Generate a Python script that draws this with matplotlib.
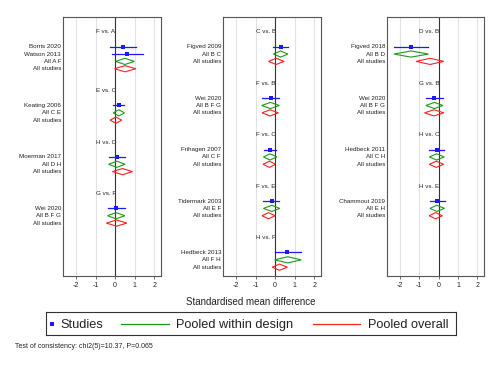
"""
Network meta-analysis side-splitting forest plot (test of consistency).
"""

import matplotlib
matplotlib.use("Agg")
import matplotlib.pyplot as plt
from matplotlib.lines import Line2D

plt.rcParams["font.family"] = ["Liberation Sans", "DejaVu Sans"]
plt.rcParams["axes.unicode_minus"] = False

# comparisons (one block each), and the panel each goes in
block_names = ["F vs. A", "E vs. C", "H vs. D", "G vs. F",
               "C vs. B", "F vs. B", "F vs. C", "F vs. E", "H vs. F",
               "D vs. B", "G vs. B", "H vs. C", "H vs. E"]
block_panel = [0, 0, 0, 0, 1, 1, 1, 1, 1, 2, 2, 2, 2]
design_labels = ["All A F", "All C E", "All D H", "All B F G",
                 "All B C", "All B F G", "All C F", "All E F", "All F H",
                 "All B D", "All B F G", "All C H", "All E H"]

# individual studies
study_names = ["Borris 2020", "Watson 2013", "Keating 2006", "Moerman 2017", "Wei 2020",
               "Figved 2009", "Wei 2020", "Frihagen 2007", "Tidermark 2003", "Hedbeck 2013",
               "Figved 2018", "Wei 2020", "Hedbeck 2011", "Chammout 2019"]
study_block = [0, 0, 1, 2, 3, 4, 5, 6, 7, 8, 9, 10, 11, 12]
study_est = [0.39, 0.63, 0.19, 0.09, 0.05, 0.29, -0.22, -0.26, -0.17, 0.63, -1.43, -0.22, -0.10, -0.09]
study_lo = [-0.26, -0.14, -0.09, -0.33, -0.39, -0.09, -0.69, -0.58, -0.60, -0.03, -2.31, -0.66, -0.48, -0.44]
study_hi = [1.08, 1.41, 0.48, 0.50, 0.50, 0.65, 0.22, 0.07, 0.22, 1.34, -0.53, 0.24, 0.29, 0.31]
study_weight = [0.6, 0.4, 1.0, 0.8, 0.7, 0.8, 0.6, 1.0, 0.8, 0.6, 0.4, 0.6, 0.8, 0.7]

# pooled within design
design_est = [0.50, 0.19, 0.09, 0.05, 0.28, -0.24, -0.26, -0.17, 0.65, -1.43, -0.22, -0.10, -0.09]
design_lo = [0.02, -0.10, -0.34, -0.39, -0.09, -0.69, -0.60, -0.60, -0.03, -2.31, -0.66, -0.48, -0.44]
design_hi = [0.99, 0.48, 0.51, 0.50, 0.65, 0.22, 0.09, 0.24, 1.34, -0.53, 0.22, 0.29, 0.31]

# pooled overall
overall_est = [0.51, 0.04, 0.38, 0.07, 0.05, -0.26, -0.29, -0.34, 0.22, -0.44, -0.24, -0.12, -0.15]
overall_lo = [-0.03, -0.26, -0.14, -0.45, -0.34, -0.67, -0.62, -0.67, -0.15, -1.16, -0.73, -0.48, -0.49]
overall_hi = [1.06, 0.34, 0.89, 0.60, 0.46, 0.17, 0.02, 0.00, 0.63, 0.27, 0.27, 0.26, 0.20]

x_ticks = [-2, -1, 0, 1, 2]

BLUE = "#1a1aff"
GREEN = "#1a9a1a"
RED = "#ff2020"
TXT = "#222222"

fig = plt.figure(figsize=(5.02, 3.65), dpi=100)

lefts = [63, 223, 387]
widths = [98, 98, 97]
axes = []
for left, w in zip(lefts, widths):
    ax = fig.add_axes([left / 502, (365 - 276) / 365, w / 502, (276 - 17) / 365])
    ax.set_xlim(-2.67, 2.35)
    ax.set_ylim(33.2, -2.04)
    ax.set_yticks([])
    ax.set_xticks(x_ticks)
    ax.set_xticklabels([str(t) for t in x_ticks], fontsize=5, color=TXT)
    ax.tick_params(axis="x", length=2.5, width=0.6, color="#555555", pad=2)
    for t in x_ticks:
        if t == 0:
            ax.axvline(t, color="#333333", lw=0.8, zorder=1)
        else:
            ax.axvline(t, color="#e2e2e2", lw=0.8, zorder=0)
    for s in ax.spines.values():
        s.set_color("#555555")
        s.set_linewidth(0.8)
    axes.append(ax)


def diamond(ax, lo, est, hi, y, color):
    ax.fill([lo, est, hi, est, lo], [y, y - 0.42, y, y + 0.42, y],
            facecolor="none", edgecolor=color, lw=0.8, zorder=3)


def label(ax, y, text):
    ax.text(-0.02, y, text, transform=ax.get_yaxis_transform(),
            ha="right", va="center", fontsize=4.5, color=TXT)


next_row = [0, 0, 0]
for b, name in enumerate(block_names):
    ax = axes[block_panel[b]]
    r = next_row[block_panel[b]]
    ax.text(-1, r, name, ha="left", va="center", fontsize=4.5, color=TXT, zorder=0)
    y = r + 2
    for i, sb in enumerate(study_block):
        if sb != b:
            continue
        ax.plot([study_lo[i], study_hi[i]], [y, y], color=BLUE, lw=0.9, zorder=3)
        ax.plot(study_est[i], y, marker="s", color=BLUE, ms=1.8 + 1.7 * study_weight[i],
                mew=0, zorder=4)
        label(ax, y, study_names[i])
        y += 1
    diamond(ax, design_lo[b], design_est[b], design_hi[b], y, GREEN)
    label(ax, y, design_labels[b])
    diamond(ax, overall_lo[b], overall_est[b], overall_hi[b], y + 1, RED)
    label(ax, y + 1, "All studies")
    next_row[block_panel[b]] = y + 4

fig.text(251 / 502, 1 - 302 / 365, "Standardised mean difference",
         ha="center", va="center", fontsize=7, color=TXT)

# legend
lax = fig.add_axes([46 / 502, (365 - 335) / 365, 410 / 502, 23 / 365])
lax.set_xlim(0, 1)
lax.set_ylim(0, 1)
lax.set_xticks([])
lax.set_yticks([])
for s in lax.spines.values():
    s.set_color("#333333")
    s.set_linewidth(0.8)
lax.add_line(Line2D([0.0146], [0.5], marker="s", ms=2.2, mew=0, color=BLUE))
lax.text(0.034, 0.5, "Studies", ha="left", va="center_baseline", fontsize=9.2, color=TXT)
lax.add_line(Line2D([0.183, 0.30], [0.5, 0.5], color=GREEN, lw=0.9))
lax.text(0.317, 0.5, "Pooled within design", ha="left", va="center_baseline", fontsize=9.2, color=TXT)
lax.add_line(Line2D([0.651, 0.766], [0.5, 0.5], color=RED, lw=0.9))
lax.text(0.785, 0.5, "Pooled overall", ha="left", va="center_baseline", fontsize=9.2, color=TXT)

fig.text(15 / 502, 1 - 346 / 365, "Test of consistency: chi2(5)=10.37, P=0.065",
         ha="left", va="center", fontsize=5, color=TXT)

plt.savefig("out.png", dpi=100)
